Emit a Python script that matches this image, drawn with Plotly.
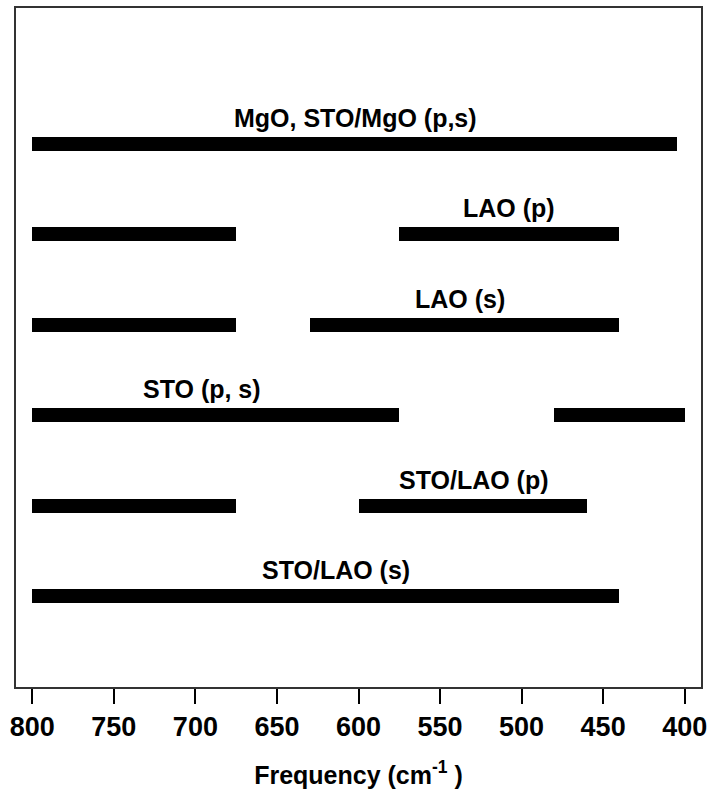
import plotly.graph_objects as go

# Row positions (top to bottom) and labels
row_labels = ["MgO, STO/MgO (p,s)", "LAO (p)", "LAO (s)", "STO (p, s)", "STO/LAO (p)", "STO/LAO (s)"]
row_pos = [6, 5, 4, 3, 2, 1]
label_x = [602, 508, 538, 696, 529, 614]

# Segments: (row index, start freq, end freq)
seg_row = [0, 1, 1, 2, 2, 3, 3, 4, 4, 5]
seg_start = [800, 800, 575, 800, 630, 800, 480, 800, 600, 800]
seg_end = [405, 675, 440, 675, 440, 575, 400, 675, 460, 440]

tick_vals = [800, 750, 700, 650, 600, 550, 500, 450, 400]

FONT = "Liberation Sans, Arial, sans-serif"

fig = go.Figure()
fig.add_trace(go.Bar(
    orientation="h",
    y=[row_pos[r] for r in seg_row],
    base=seg_end,
    x=[s - e for s, e in zip(seg_start, seg_end)],
    width=0.155,
    marker=dict(color="black", line=dict(width=0)),
    showlegend=False,
    hoverinfo="skip",
))

for lab, lx, ry in zip(row_labels, label_x, row_pos):
    fig.add_annotation(x=lx, y=ry, yshift=26, text="<b>%s</b>" % lab, showarrow=False,
                       font=dict(family=FONT, size=25, color="black"),
                       xanchor="center", yanchor="middle")

fig.update_layout(
    width=713, height=792,
    margin=dict(l=16, r=11, t=6, b=105),
    paper_bgcolor="white", plot_bgcolor="white",
    font=dict(family=FONT, color="black"),
    bargap=0,
)
fig.update_xaxes(
    range=[810, 390], tickvals=tick_vals,
    ticktext=["<b>%d</b>" % v for v in tick_vals],
    tickfont=dict(family=FONT, size=27, color="black"),
    ticks="outside", ticklen=15, tickwidth=2, tickcolor="black",
    showline=True, linewidth=2, linecolor="#333", mirror=True,
    showgrid=False, zeroline=False,
    title=dict(text="<b>Frequency (cm<sup>-1</sup> )</b>",
               font=dict(family=FONT, size=25, color="black"), standoff=25),
)
fig.update_yaxes(
    range=[0, 7.5], showticklabels=False, ticks="",
    showline=True, linewidth=2, linecolor="#333", mirror=True,
    showgrid=False, zeroline=False,
)

fig.write_html("out.html", config={"displayModeBar": False},
               post_script="document.body.style.margin='0';document.body.style.overflow='hidden';")
